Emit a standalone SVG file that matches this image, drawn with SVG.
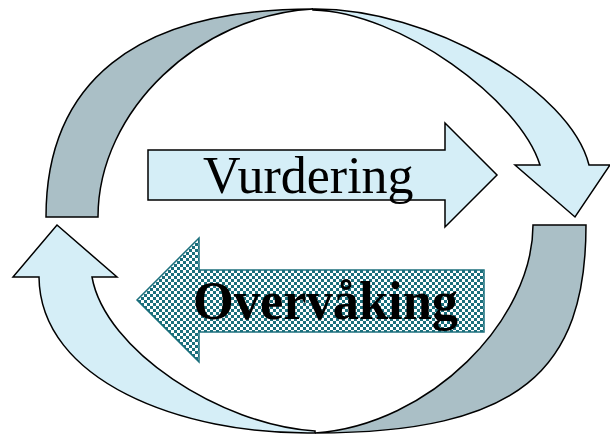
<svg xmlns="http://www.w3.org/2000/svg" width="610" height="434" viewBox="0 0 610 434">
  <style>
    .blue { fill: #d5eef7; stroke: #000; stroke-width: 1.5; stroke-linejoin: miter; }
    .gray { fill: #aabfc6; stroke: #000; stroke-width: 1.5; }
    .check { fill: url(#checker); stroke: #1b6f7c; stroke-width: 1.5; }
    .lbl { font-family: "Liberation Serif", "Times New Roman", serif; fill: #000; }
  </style>
  <defs>
    <pattern id="checker" width="6" height="6" patternUnits="userSpaceOnUse">
      <rect width="6" height="6" fill="#ffffff"/>
      <rect x="0" y="0" width="3" height="3" fill="#1b6f7c"/>
      <rect x="3" y="3" width="3" height="3" fill="#1b6f7c"/>
    </pattern>
  </defs>
  <rect width="610" height="434" fill="#ffffff"/>
  <g id="connectors">
    <g id="cycle-top">
      <path class="gray" d="M46,217 C46,84 133,9 313,9 C200,15 98,110 98,217 Z"/>
      <path class="blue" d="M313,9 C430,8 570,90 589,165 L610,165 L575,217 L515,165 L540,165 C520,100 400,12 313,10 Z"/>
    </g>
    <g id="cycle-bottom">
      <path class="gray" d="M533,225 L586,225 C586,370 520,433 315,433 C430,425 533,320 533,225 Z"/>
      <path class="blue" d="M315,433 C180,435 40,380 39,277 L13,277 L57,225 L117,277 L92,277 C105,350 220,425 315,431 Z"/>
    </g>
  </g>
  <g id="vurdering">
    <path class="blue" d="M148,150 L445,150 L445,123 L497,175 L445,227 L445,200 L148,200 Z"/>
    <text class="lbl" x="203" y="193" font-size="52">Vurdering</text>
  </g>
  <g id="overvaking">
    <path class="check" d="M137,300 L199,238 L199,270 L484,270 L484,332 L199,332 L199,362 Z"/>
    <text class="lbl" x="193" y="319" font-size="55" font-weight="bold" textLength="265" lengthAdjust="spacingAndGlyphs">Overvåking</text>
  </g>
</svg>
